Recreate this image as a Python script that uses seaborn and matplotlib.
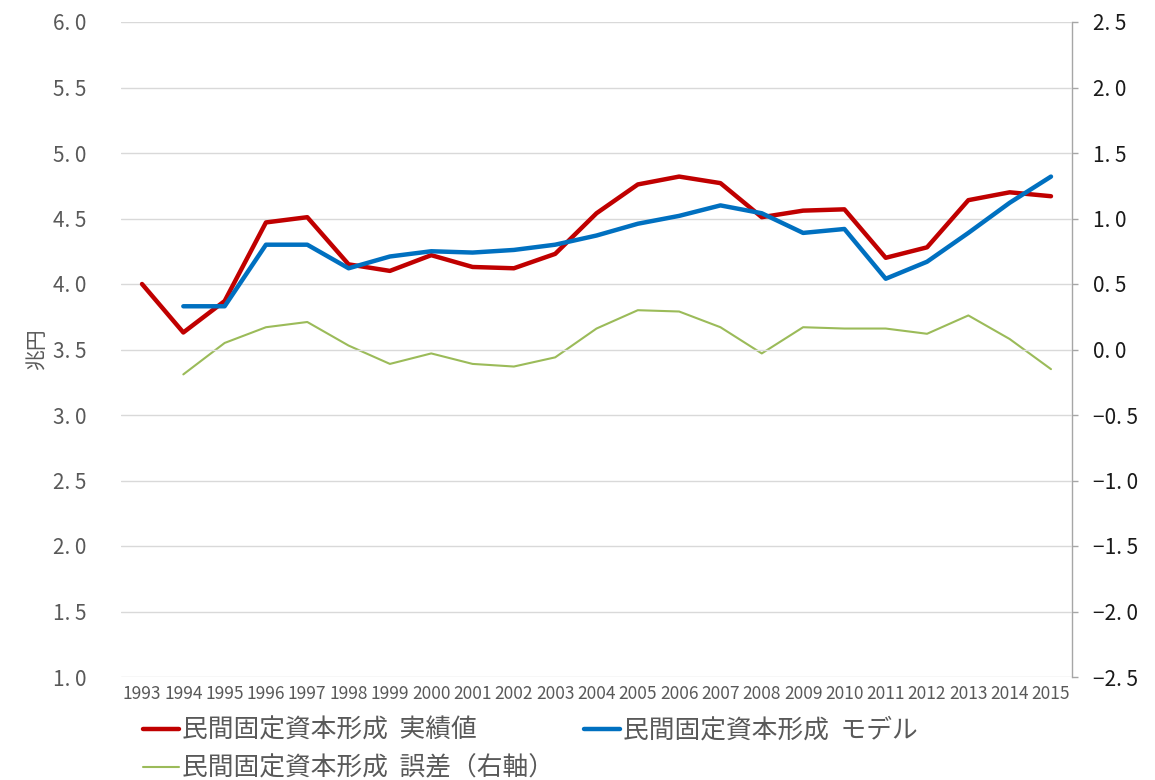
import matplotlib
matplotlib.use("Agg")
import matplotlib.pyplot as plt
from matplotlib.lines import Line2D
from matplotlib.ticker import FuncFormatter
import seaborn as sns
import pandas as pd

years = list(range(1993, 2016))
actual = [4.00, 3.63, 3.87, 4.47, 4.51, 4.15, 4.10, 4.22, 4.13, 4.12, 4.23, 4.54,
          4.76, 4.82, 4.77, 4.51, 4.56, 4.57, 4.20, 4.28, 4.64, 4.70, 4.67]
model = [None, 3.83, 3.83, 4.30, 4.30, 4.12, 4.21, 4.25, 4.24, 4.26, 4.30, 4.37,
         4.46, 4.52, 4.60, 4.54, 4.39, 4.42, 4.04, 4.17, 4.39, 4.62, 4.82]
error = [None, -0.19, 0.05, 0.17, 0.21, 0.03, -0.11, -0.03, -0.11, -0.13, -0.06, 0.16,
         0.30, 0.29, 0.17, -0.03, 0.17, 0.16, 0.16, 0.12, 0.26, 0.08, -0.15]

label_actual = "民間固定資本形成  実績値"
label_model = "民間固定資本形成  モデル"
label_error = "民間固定資本形成  誤差（右軸）"

df = pd.DataFrame({"year": years, "actual": actual, "model": model, "error": error})

sns.set_theme(style="white")
plt.rcParams["font.family"] = ["Noto Sans CJK JP", "DejaVu Sans"]

RED, BLUE, GREEN = "#C00000", "#0070C0", "#9BBB59"
GRAY = "#595959"

fig = plt.figure(figsize=(11.55, 7.8), dpi=100)
ax = fig.add_axes([121.35 / 1155, 1 - 677 / 780, (1071.65 - 121.35) / 1155, (677 - 22) / 780])
ax2 = ax.twinx()

sns.lineplot(data=df, x="year", y="actual", ax=ax, color=RED, linewidth=3.2, legend=False)
sns.lineplot(data=df.dropna(subset=["model"]), x="year", y="model", ax=ax, color=BLUE, linewidth=3.2, legend=False)
sns.lineplot(data=df.dropna(subset=["error"]), x="year", y="error", ax=ax2, color=GREEN, linewidth=1.5, legend=False)

ax.set_zorder(ax2.get_zorder() + 1)
ax.patch.set_visible(False)

ax.set_xlim(1992.5, 2015.5)
ax.set_ylim(1.0, 6.0)
ax2.set_ylim(-2.5, 2.5)

ax.set_yticks([1.0 + 0.5 * i for i in range(11)])
ax2.set_yticks([-2.5 + 0.5 * i for i in range(11)])
fmt = FuncFormatter(lambda v, p: f"{v:.1f}".replace(".", ". ").replace("-", "\u2212"))
ax.yaxis.set_major_formatter(fmt)
ax2.yaxis.set_major_formatter(fmt)

ax.grid(axis="y", color="#D9D9D9", linewidth=1.0)
ax.grid(axis="x", visible=False)
ax2.grid(False)

ax.set_xticks(years)
ax.set_xticklabels([str(y) for y in years], fontsize=12.5, color=GRAY)
ax.tick_params(axis="x", length=0, pad=6)
ax.tick_params(axis="y", length=0, pad=25, labelsize=15, labelcolor=GRAY)
ax2.tick_params(axis="y", length=4.5, width=1, color="#A6A6A6", direction="out", pad=11,
                labelsize=15, labelcolor="#1A1A1A")

for s in ["top", "left", "bottom", "right"]:
    ax.spines[s].set_visible(False)
for s in ["top", "left", "bottom"]:
    ax2.spines[s].set_visible(False)
ax2.spines["right"].set_color("#A6A6A6")
ax2.spines["right"].set_linewidth(1.0)

ax.set_xlabel("")
ax2.set_ylabel("")
ax.set_ylabel("兆円", fontsize=15, color=GRAY, labelpad=4)

handles = [
    Line2D([0], [0], color=RED, linewidth=3.2),
    Line2D([0], [0], color=GREEN, linewidth=1.5),
    Line2D([0], [0], color=BLUE, linewidth=3.2),
]
fig.legend(handles, [label_actual, label_error, label_model], loc="upper left",
           bbox_to_anchor=(143 / 1155, 1 - 718 / 780), ncol=2, frameon=False,
           fontsize=18.5, labelcolor=GRAY, handlelength=1.4, handletextpad=0.1,
           columnspacing=1.2, labelspacing=0.45, borderpad=0, borderaxespad=0)

fig.savefig("out.png", dpi=100)
